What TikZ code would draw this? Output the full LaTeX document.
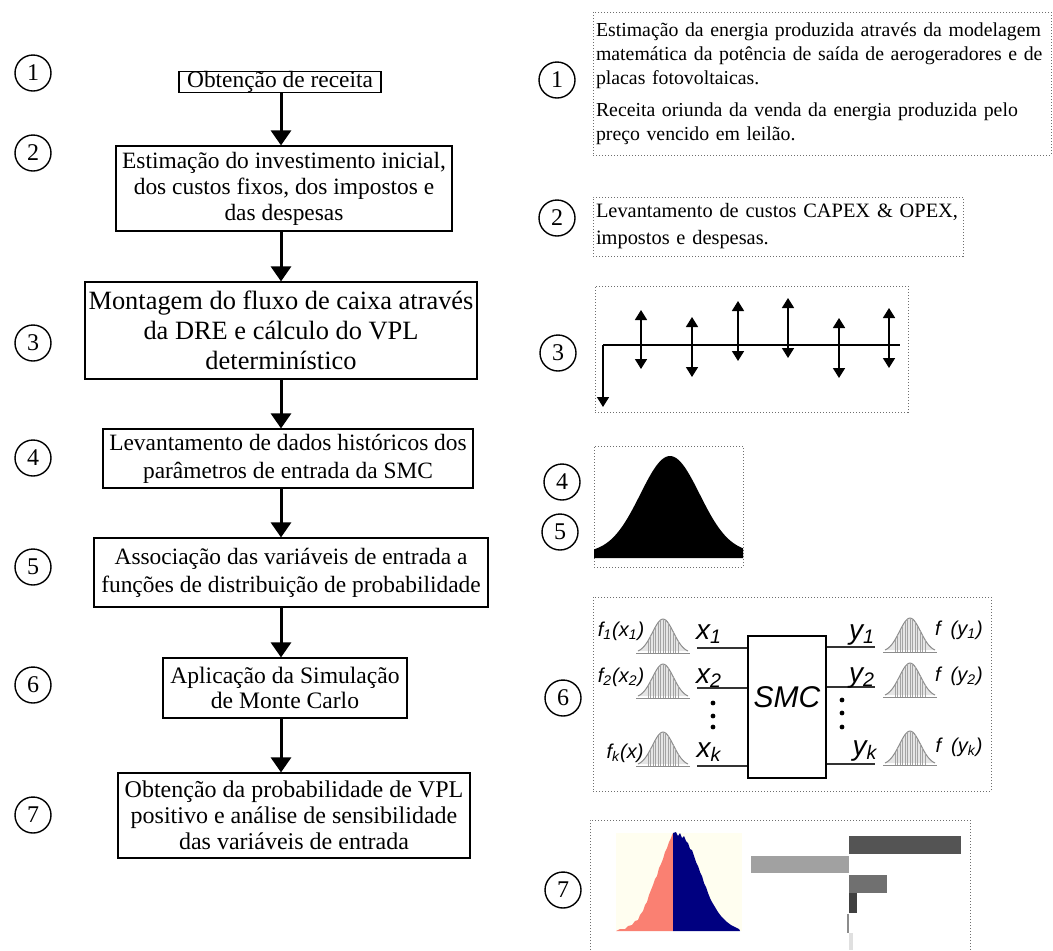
\documentclass[tikz,border=0pt]{standalone}
\usepackage{fontspec}
\setmainfont{Liberation Serif}
\setsansfont{Liberation Sans}
\usetikzlibrary{arrows.meta, calc}
\definecolor{framegray}{RGB}{110,110,110}
\definecolor{bellgray}{RGB}{140,140,140}
\definecolor{histbg}{RGB}{255,254,240}
\definecolor{histsalmon}{RGB}{250,128,114}
\definecolor{histnavy}{RGB}{0,0,128}
\newcommand{\fsz}[2]{\fontsize{#1}{#2}\selectfont}

\tikzset{
  stepbox/.style={draw, line width=0.6pt, align=center, inner sep=0pt},
  numcirc/.style={draw, circle, line width=0.7pt, minimum size=18pt, inner sep=0pt, font=\fsz{12pt}{14pt}},
  notebox/.style={draw=framegray, densely dotted, line width=0.5pt, inner xsep=1.5pt, inner ysep=0pt, align=left},
  flowarrow/.style={line width=1.5pt, -{Triangle[width=10pt,length=7.5pt]}},
  cfarrow/.style={line width=0.8pt, -{Triangle[width=6pt,length=5pt]}},
  cfboth/.style={line width=0.8pt, {Triangle[width=6pt,length=5pt]}-{Triangle[width=6pt,length=5pt]}},
  smctext/.style={font=\sffamily\itshape\fsz{10pt}{12pt}, inner sep=0pt},
  smcvar/.style={font=\sffamily\itshape\fsz{14pt}{16pt}, inner sep=0pt},
  smcline/.style={line width=0.6pt, black!80},
  bellline/.style={bellgray, line width=0.5pt}
}

\begin{document}
\begin{tikzpicture}[x=0.5pt, y=-0.5pt]
    \useasboundingbox (0,0) rectangle (1053,950);

    % left column: steps
    \node[stepbox, minimum width=101pt, minimum height=10pt, font=\fsz{11.7pt}{13pt}] (b1) at (280,82) {Obtenção de receita};
    \node[stepbox, minimum width=168pt, minimum height=42.5pt, font=\fsz{11.7pt}{13pt}] (b2) at (284,188.5)
        {Estimação do investimento inicial,\\ dos custos fixos, dos impostos e\\ das despesas};
    \node[stepbox, minimum width=196pt, minimum height=48.5pt, font=\fsz{13.2pt}{15pt}] (b3) at (281,330.5)
        {Montagem do fluxo de caixa através\\ da DRE e cálculo do VPL\\ determinístico};
    \node[stepbox, minimum width=185pt, minimum height=29.5pt, font=\fsz{11.7pt}{14pt}] (b4) at (288,458.5)
        {Levantamento de dados históricos dos\\ parâmetros de entrada da SMC};
    \node[stepbox, minimum width=197pt, minimum height=34.5pt, font=\fsz{11.7pt}{14pt}] (b5) at (291,572.5)
        {Associação das variáveis de entrada a\\ funções de distribuição de probabilidade};
    \node[stepbox, minimum width=122pt, minimum height=30pt, font=\fsz{11.8pt}{12.5pt}] (b6) at (285,688)
        {Aplicação da Simulação\\ de Monte Carlo};
    \node[stepbox, minimum width=176pt, minimum height=42.5pt, font=\fsz{12pt}{13pt}] (b7) at (294,815.5)
        {Obtenção da probabilidade de VPL\\ positivo e análise de sensibilidade\\ das variáveis de entrada};

    \coordinate (ax) at (281,0);
    \foreach \a/\b in {b1/b2, b2/b3, b3/b4, b4/b5, b5/b6, b6/b7}
        \draw[flowarrow] (\a.south -| ax) -- (\b.north -| ax);

    % step numbers
    \foreach \n/\y in {1/73, 2/153, 3/343, 4/458, 5/567, 6/685, 7/815}
        \node[numcirc] (ln\n) at (33,\y) {\n};
    \node[numcirc] (rn1) at (557,80) {1};
    \node[numcirc] (rn2) at (557,218) {2};
    \node[numcirc] (rn3) at (558,353) {3};
    \node[numcirc] (rn4) at (562,482) {4};
    \node[numcirc] (rn5) at (560,532) {5};
    \node[numcirc] (rn6) at (563,698) {6};
    \node[numcirc] (rn7) at (563,890) {7};

    % right column: notes
    \node[notebox, minimum height=71.5pt, text width=226pt, font=\fsz{9.9pt}{12pt}] (r1) at (822,83.5)
        {Estimação da energia produzida através da modelagem\\ matemática da potência de saída de aerogeradores e de\\ placas fotovoltaicas.\\[4pt]
         Receita oriunda da venda da energia produzida pelo\\ preço vencido em leilão.};
    \node[notebox, minimum height=29.5pt, text width=182pt, font=\fsz{10.2pt}{13.5pt}] (r2) at (778,226.5)
        {Levantamento de custos CAPEX \& OPEX,\\ impostos e despesas.};

    % 3: cash flow
    \node[notebox, minimum width=156.5pt, minimum height=63pt] (r3) at (751.5,349) {};
    \coordinate (cf0) at (603,345);
    \coordinate (cfend) at (900,345);
    \draw[line width=0.8pt] (cf0) -- (cfend);
    \draw[cfarrow] (cf0) -- (603,407);
    \foreach \x/\t/\b in {641/310/369, 692/317/377, 738/301/361, 788/298/358, 839/318/378, 889/308/368}
        \draw[cfboth] (\x,\b) -- (\x,\t);

    % 4 and 5: distribution
    \node[notebox, minimum width=74.5pt, minimum height=60.5pt] (r45) at (668.5,506.5) {};
    \fill (594,558) -- plot[domain=594:743, samples=80]
        (\x, {553-97*exp(-((\x-670)/29.7)*((\x-670)/29.7)/2)}) -- (743,558) -- cycle;

    % 6: simulation
    \node[notebox, minimum width=199pt, minimum height=97pt] (r6) at (792,694) {};
    \node[draw, line width=0.6pt, minimum width=39pt, minimum height=71pt, inner sep=0pt] (smc) at (787,707) {};
    \node[font=\sffamily\itshape\fsz{15pt}{17pt}, inner sep=0pt] (smclbl) at (787,697) {SMC};
    \foreach \i/\y in {1/648, 2/688, k/766} {
        \coordinate (in\i) at (697,\y);
        \draw[smcline] (in\i) -- (in\i -| smc.west);
    }
    \foreach \i/\y in {1/647, 2/687, k/764} {
        \coordinate (out\i) at (875,\y);
        \draw[smcline] (out\i -| smc.east) -- (out\i);
    }
    \foreach \bx/\by in {663/653, 663/698, 663/766, 910/652, 910/697, 910/765} {
        \fill[black!10] plot[domain=-25:25, samples=30] ({\bx+\x}, {\by-34*exp(-(\x/10.5)*(\x/10.5)/2)}) -- cycle;
        \draw[bellline] (\bx-27,\by) -- (\bx+27,\by);
        \draw[bellline] plot[domain=-25:25, samples=30] ({\bx+\x}, {\by-34*exp(-(\x/10.5)*(\x/10.5)/2)});
        \foreach \k in {-15,-12.5,...,15}
            \draw[bellgray!80, line width=0.4pt] ({\bx+\k},\by) -- ({\bx+\k},{\by-34*exp(-(\k/10.5)*(\k/10.5)/2)});
    }
    \node[smctext] (fx1) at (621,631) {f\textsubscript{1}(x\textsubscript{1})};
    \node[smctext] (fx2) at (621,677) {f\textsubscript{2}(x\textsubscript{2})};
    \node[smctext] (fxk) at (625,753) {f\textsubscript{k}(x)};
    \node[smcvar] (x1) at (709,634) {x\textsubscript{1}};
    \node[smcvar] (x2) at (709,678) {x\textsubscript{2}};
    \node[smcvar] (xk) at (709,752) {x\textsubscript{k}};
    \node[smcvar] (y1) at (862,635) {y\textsubscript{1}};
    \node[smcvar] (y2) at (862,678) {y\textsubscript{2}};
    \node[smcvar] (yk) at (865,751) {y\textsubscript{k}};
    \node[smctext] (fy1) at (959,630) {f\,\,\,(y\textsubscript{1})};
    \node[smctext] (fy2) at (959,676) {f\,\,\,(y\textsubscript{2})};
    \node[smctext] (fyk) at (959,747) {f\,\,\,(y\textsubscript{k})};
    \foreach \y in {703,716,727} \fill (713,\y) circle (1.2pt);
    \foreach \y in {700,713,727} \fill (842,\y) circle (1.2pt);

    % 7: results
    \draw[framegray, densely dotted, line width=0.5pt] (590,950) -- (590,820) -- (970,820) -- (970,950);
    \fill[histbg] (616,833) rectangle (742,931);
    \fill[histsalmon] (616,931) -- (620,929) -- (625,929) -- (628,926) -- (632,925) -- (635,921) -- (638,920)
        -- (640,915) -- (643,911) -- (645,905) -- (647,902) -- (649,895) -- (651,890) -- (653,885) -- (655,879)
        -- (657,876) -- (659,868) -- (661,864) -- (663,859) -- (665,852) -- (667,848) -- (669,842) -- (671,838)
        -- (672,835) -- (673,833) -- (673,931) -- cycle;
    \fill[histnavy] (673,931) -- (673,833) -- (676,832) -- (678,836) -- (680,833) -- (682,838) -- (684,836)
        -- (686,841) -- (688,843) -- (690,849) -- (692,850) -- (694,856) -- (696,862) -- (698,866) -- (700,872)
        -- (702,876) -- (704,883) -- (706,887) -- (708,893) -- (710,898) -- (712,902) -- (715,907) -- (718,912)
        -- (721,916) -- (724,919) -- (727,922) -- (731,925) -- (735,927) -- (739,929) -- (740,931) -- cycle;
    \fill[black!67] (849,836) rectangle (961,854);
    \fill[black!37] (751,856) rectangle (849,873);
    \fill[black!56] (849,875) rectangle (887,893);
    \fill[black!75] (849,893) rectangle (857,913);
    \fill[black!45] (847,914) rectangle (849,933);
    \fill[black!12] (849,933) rectangle (853,950);
\end{tikzpicture}
\end{document}
